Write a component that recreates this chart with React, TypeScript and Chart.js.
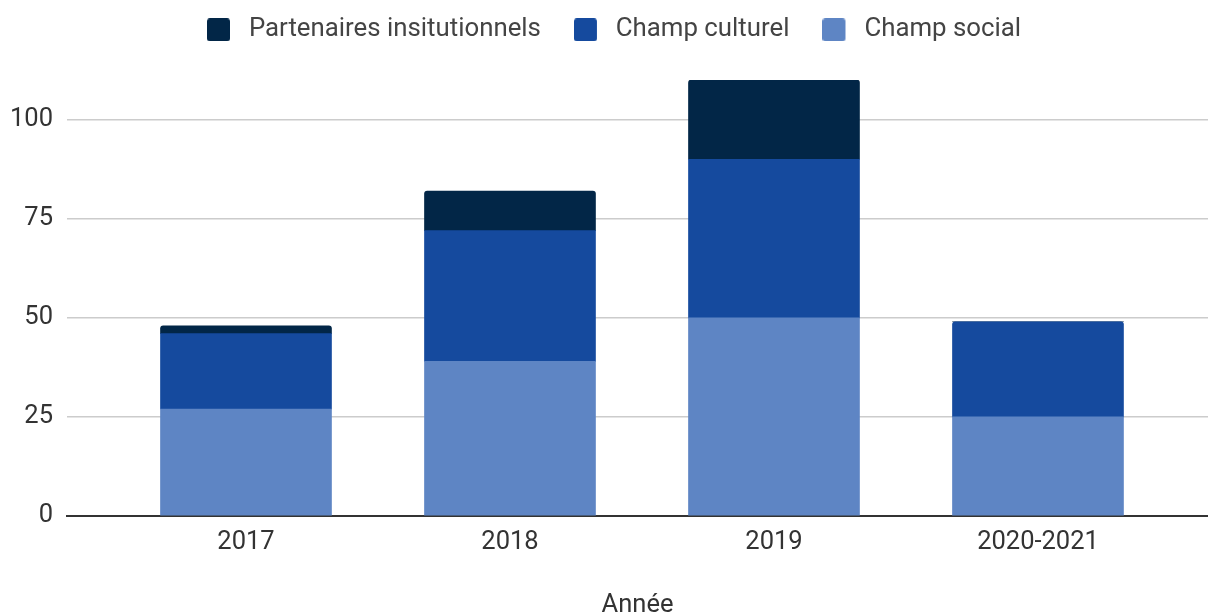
import React, { useEffect, useRef } from "react";
import { Chart, registerables } from "chart.js";

Chart.register(...registerables);

const categories = ["2017", "2018", "2019", "2020-2021"];
const champSocial = [27, 39, 50, 25];
const champCulturel = [19, 33, 40, 24];
const partenaires = [2, 10, 20, 0];
const yTicks = [0, 25, 50, 75, 100];

const seriesLabels = ["Champ social", "Champ culturel", "Partenaires insitutionnels"];
const seriesColors = ["#5e85c4", "#154a9e", "#022647"];

const toPoints = (arr: number[]) => arr.map((y, i) => ({ x: i, y }));

const LEGEND_H = 96;
const LEGEND_SHIFT_X = 10;

const legendPatchPlugin = {
  id: "legendPatch",
  beforeLayout(chart: any) {
    const lg = chart.legend;
    if (lg && !lg._patched) {
      const f = lg.fit;
      lg.fit = function () {
        f.call(this);
        this.height = LEGEND_H;
      };
      const d = lg.draw;
      lg.draw = function (...args: any[]) {
        const ctx = this.ctx;
        ctx.save();
        ctx.translate(LEGEND_SHIFT_X, 0);
        d.apply(this, args);
        ctx.restore();
      };
      lg._patched = true;
    }
  },
};

function makeSwatch(color: string) {
  const c = document.createElement("canvas");
  c.width = 29;
  c.height = 23;
  const ctx = c.getContext("2d")!;
  ctx.fillStyle = color;
  ctx.beginPath();
  if ((ctx as any).roundRect) (ctx as any).roundRect(0, 0, 23, 23, 3);
  else ctx.rect(0, 0, 23, 23);
  ctx.fill();
  return c;
}

export default function App() {
  const ref = useRef<HTMLCanvasElement | null>(null);

  useEffect(() => {
    if (!ref.current) return;
    const font = { family: "Roboto", size: 25.5 };
    const swatches = seriesColors.map(makeSwatch);
    const chart = new Chart(ref.current, {
      type: "bar",
      plugins: [legendPatchPlugin],
      data: {
        datasets: [
          { label: seriesLabels[0], data: toPoints(champSocial), backgroundColor: seriesColors[0] },
          { label: seriesLabels[1], data: toPoints(champCulturel), backgroundColor: seriesColors[1] },
          { label: seriesLabels[2], data: toPoints(partenaires), backgroundColor: seriesColors[2] },
        ],
      },
      options: {
        animation: false,
        responsive: true,
        maintainAspectRatio: false,
        layout: { padding: { left: 0, right: 0, top: -16, bottom: 0 } },
        datasets: {
          bar: {
            barThickness: 171,
            borderRadius: 3,
            borderSkipped: "start",
          },
        },
        plugins: {
          tooltip: { enabled: false },
          legend: {
            position: "top",
            reverse: true,
            labels: {
              font: { family: "Roboto", size: 25.8 },
              color: "#444",
              boxWidth: 29,
              boxHeight: 23,
              padding: 33,
              usePointStyle: true,
              pointStyleWidth: 29,
              generateLabels: (chart: any) => {
                const items = Chart.defaults.plugins.legend.labels.generateLabels(chart);
                return items.map((it: any) => ({
                  ...it,
                  pointStyle: swatches[it.datasetIndex],
                }));
              },
            },
          },
        },
        scales: {
          x: {
            type: "linear",
            stacked: true,
            offset: false,
            min: -0.678,
            max: 3.644,
            afterBuildTicks: (scale: any) => {
              scale.ticks = categories.map((_, i) => ({ value: i }));
            },
            afterFit: (scale: any) => {
              scale.height = 99;
            },
            ticks: {
              font,
              color: "#333",
              padding: 11,
              autoSkip: false,
              maxRotation: 0,
              callback: (v: any) => categories[v as number] ?? "",
            },
            grid: { display: false, drawTicks: false },
            border: { display: true, color: "#333", width: 2 },
            title: {
              display: true,
              text: "Année",
              font: { family: "Roboto", size: 25.5, lineHeight: 1 },
              color: "#333",
              padding: { top: 0, bottom: -3 },
            },
          },
          y: {
            stacked: true,
            min: 0,
            max: 110,
            afterBuildTicks: (scale: any) => {
              scale.ticks = yTicks.map((v) => ({ value: v }));
            },
            afterFit: (scale: any) => {
              scale.width = 67;
            },
            ticks: { font, color: "#333", padding: 14 },
            grid: { color: "#cccccc", lineWidth: 1.5, drawTicks: false },
            border: { display: false },
          },
        },
      },
    });
    return () => chart.destroy();
  }, []);

  return (
    <div style={{ position: "fixed", left: 0, top: 0, width: 1208, height: 615, background: "#fff" }}>
      <canvas ref={ref} />
    </div>
  );
}
